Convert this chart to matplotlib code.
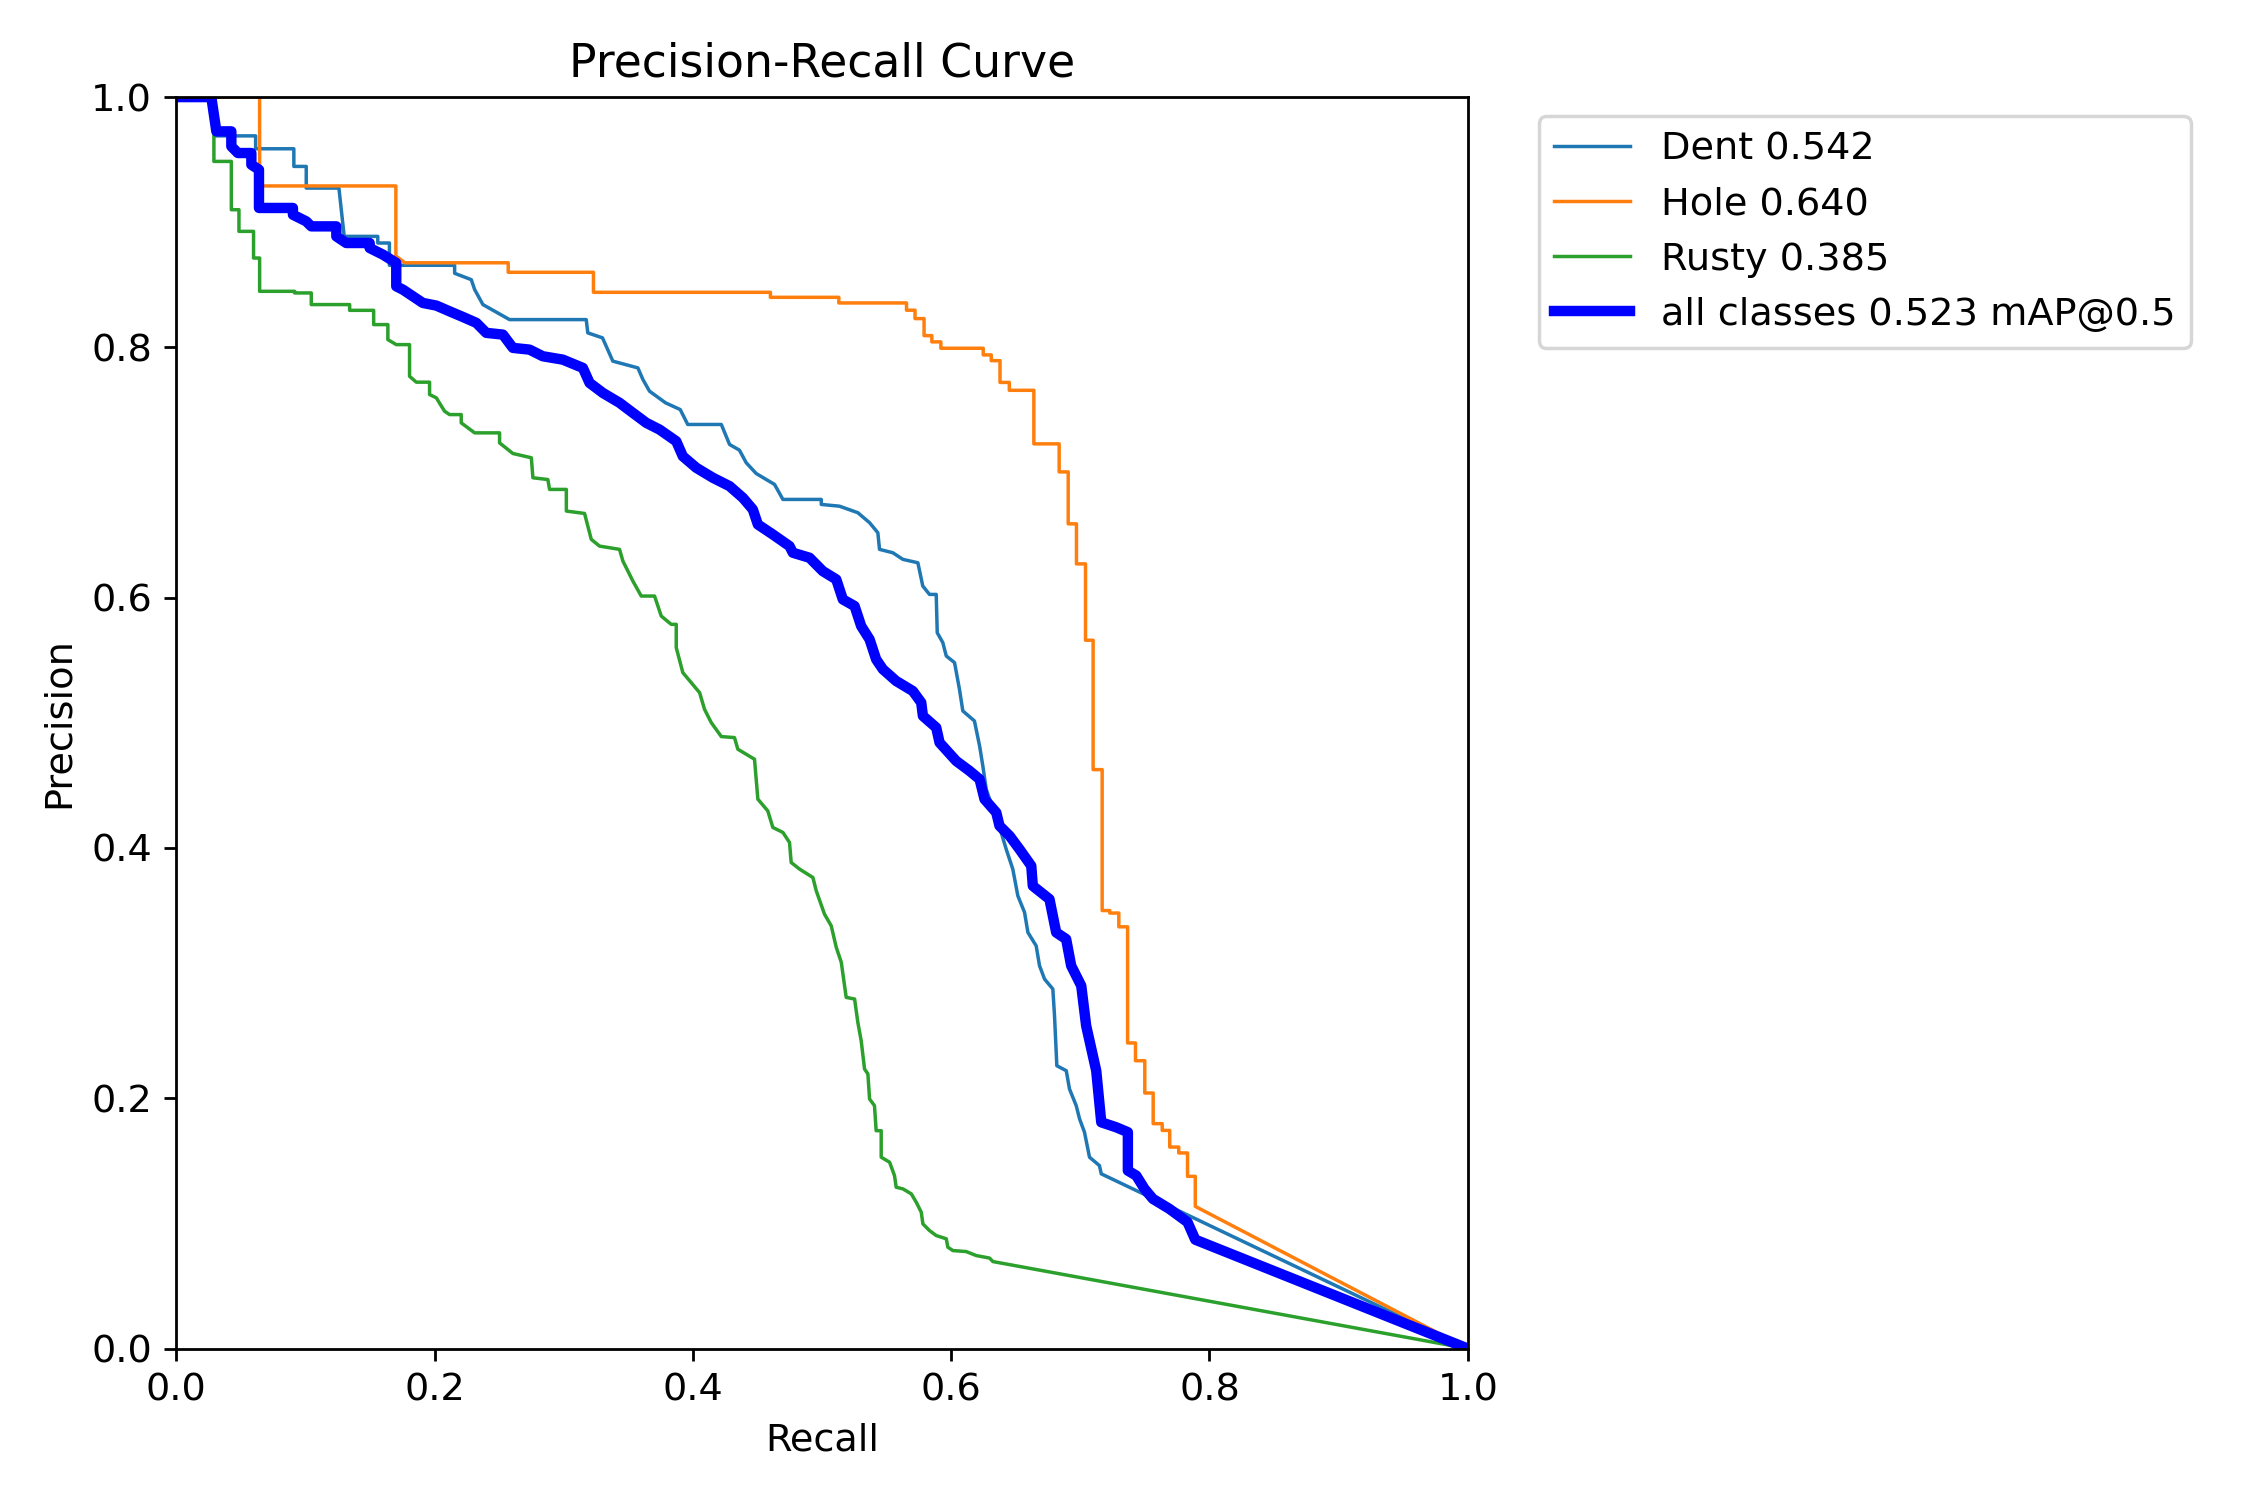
import matplotlib
matplotlib.use("Agg")
import matplotlib.pyplot as plt

plt.rcParams["font.size"] = 11

# ---- data ----
dent_recall = [0.000, 0.030, 0.030, 0.0614, 0.0614, 0.091, 0.091, 0.1006, 0.1006, 0.1259, 0.130, 0.156, 0.156,
               0.165, 0.165, 0.2155, 0.2155, 0.2284, 0.231, 0.2374, 0.258, 0.3174, 0.3186, 0.330, 0.338, 0.3574,
               0.3613, 0.3664, 0.3788, 0.3902, 0.396, 0.422, 0.4284, 0.436, 0.4413, 0.449, 0.4632, 0.4697, 0.4994,
               0.4994, 0.5135, 0.5277, 0.5368, 0.5432, 0.5445, 0.5548, 0.5626, 0.5742, 0.578, 0.5832, 0.5884,
               0.5892, 0.5935, 0.5962, 0.6026, 0.6064, 0.609, 0.618, 0.622, 0.6245, 0.6271, 0.6387, 0.6426,
               0.6477, 0.6516, 0.6568, 0.6594, 0.6658, 0.6684, 0.6723, 0.6787, 0.680, 0.6818, 0.6891, 0.6916,
               0.6968, 0.6994, 0.7032, 0.7071, 0.7148, 0.7162, 1.0]
dent_precision = [1.000, 1.000, 0.969, 0.969, 0.9587, 0.9587, 0.9446, 0.9446, 0.9273, 0.9273, 0.8887, 0.8887, 0.8834,
                  0.8834, 0.8656, 0.8656, 0.8592, 0.8541, 0.8462, 0.8342, 0.8222, 0.8222, 0.8116, 0.8076, 0.789, 0.7836,
                  0.7743, 0.765, 0.7557, 0.7503, 0.7384, 0.7384, 0.7224, 0.7179, 0.7078, 0.6992, 0.6905, 0.6785, 0.6785,
                  0.6745, 0.6731, 0.6679, 0.6599, 0.6519, 0.6386, 0.6359, 0.6306, 0.6279, 0.6093, 0.6026, 0.6026,
                  0.572, 0.5641, 0.5534, 0.5481, 0.5268, 0.5095, 0.5015, 0.4815, 0.4655, 0.447, 0.4124, 0.399,
                  0.3831, 0.3618, 0.3485, 0.3325, 0.3218, 0.3059, 0.2952, 0.2873, 0.266, 0.226, 0.222, 0.2074,
                  0.1941, 0.1835, 0.1729, 0.1529, 0.1462, 0.1396, 0.0]

hole_recall = [0.0, 0.0645, 0.0645, 0.170, 0.170, 0.177, 0.257, 0.257, 0.323, 0.323, 0.460, 0.460, 0.513, 0.513,
               0.5654, 0.5654, 0.572, 0.572, 0.579, 0.579, 0.585, 0.585, 0.592, 0.592, 0.6248, 0.6248, 0.631, 0.631,
               0.6378, 0.6378, 0.645, 0.645, 0.664, 0.664, 0.6836, 0.6836, 0.6906, 0.6906, 0.697, 0.697, 0.704,
               0.704, 0.7099, 0.7099, 0.7169, 0.7169, 0.7228, 0.7228, 0.7298, 0.7298, 0.7366, 0.7366, 0.7427,
               0.7427, 0.7499, 0.7499, 0.7564, 0.7564, 0.7634, 0.7634, 0.7692, 0.7692, 0.7762, 0.7762, 0.783,
               0.783, 0.789, 0.789, 1.0]
hole_precision = [1.0, 1.0, 0.929, 0.929, 0.873, 0.8676, 0.8676, 0.860, 0.860, 0.844, 0.844, 0.840, 0.840, 0.8355,
                  0.8355, 0.8297, 0.8297, 0.823, 0.823, 0.8094, 0.8094, 0.8044, 0.8044, 0.7993, 0.7993, 0.794, 0.794,
                  0.7894, 0.7894, 0.772, 0.772, 0.7657, 0.7657, 0.7229, 0.7229, 0.7005, 0.7005, 0.659, 0.659, 0.627,
                  0.627, 0.566, 0.566, 0.4626, 0.4626, 0.350, 0.350, 0.348, 0.348, 0.337, 0.337, 0.2442, 0.2442,
                  0.230, 0.230, 0.2042, 0.2042, 0.1797, 0.1797, 0.1743, 0.1743, 0.161, 0.161, 0.1563, 0.1563,
                  0.1376, 0.1376, 0.1136, 0.0]

rusty_recall = [0.0, 0.0291, 0.0291, 0.0426, 0.0426, 0.0485, 0.0485, 0.0598, 0.0598, 0.0645, 0.0645, 0.0916, 0.0916,
                0.1045, 0.1045, 0.1342, 0.1342, 0.1528, 0.1528, 0.1638, 0.1638, 0.1703, 0.1806, 0.1806, 0.1858,
                0.1961, 0.1961, 0.2013, 0.2077, 0.2116, 0.2206, 0.2206, 0.231, 0.2503, 0.2503, 0.2606, 0.2749,
                0.2761, 0.2877, 0.289, 0.302, 0.302, 0.3161, 0.3213, 0.3277, 0.3432, 0.3458, 0.3497, 0.3535, 0.360,
                0.3703, 0.3755, 0.3832, 0.3871, 0.3871, 0.3922, 0.3987, 0.4052, 0.409, 0.4142, 0.422, 0.4322,
                0.4348, 0.4477, 0.4503, 0.458, 0.4619, 0.4697, 0.4748, 0.4761, 0.4826, 0.4929, 0.4955, 0.5019,
                0.5071, 0.511, 0.5149, 0.5187, 0.5252, 0.5277, 0.5303, 0.5329, 0.5355, 0.5368, 0.5406, 0.5419,
                0.5458, 0.5458, 0.5523, 0.5561, 0.5574, 0.5626, 0.5691, 0.5729, 0.5768, 0.5781, 0.5832, 0.5884,
                0.5962, 0.5974, 0.6013, 0.6116, 0.6194, 0.6297, 0.6323, 1.0]
rusty_precision = [1.0, 1.0, 0.9486, 0.9486, 0.91, 0.91, 0.8927, 0.8927, 0.8714, 0.8714, 0.8448, 0.8448, 0.8435,
                   0.8435, 0.8342, 0.8342, 0.8296, 0.8296, 0.8182, 0.8182, 0.8062, 0.8022, 0.8022, 0.7769, 0.7722,
                   0.7722, 0.7623, 0.7597, 0.749, 0.7463, 0.7463, 0.7397, 0.7317, 0.7317, 0.7237, 0.7152, 0.7118,
                   0.6958, 0.6944, 0.6865, 0.6865, 0.6692, 0.6673, 0.6466, 0.6412, 0.6386, 0.6292, 0.6212, 0.6133,
                   0.6013, 0.6013, 0.5853, 0.5787, 0.5787, 0.5601, 0.5401, 0.5321, 0.5241, 0.5108, 0.5002, 0.489,
                   0.4882, 0.4789, 0.4709, 0.439, 0.4296, 0.4164, 0.4124, 0.4044, 0.3884, 0.3831, 0.3764, 0.3658,
                   0.3471, 0.3378, 0.3206, 0.3086, 0.2806, 0.2793, 0.2607, 0.246, 0.2234, 0.2194, 0.1994, 0.1941,
                   0.1741, 0.1741, 0.1529, 0.1489, 0.1382, 0.1289, 0.1276, 0.1236, 0.117, 0.109, 0.0996, 0.0943,
                   0.0903, 0.0877, 0.081, 0.0783, 0.0775, 0.0743, 0.0723, 0.0695, 0.0]

all_recall = [0.0, 0.0271, 0.031, 0.0426, 0.0426, 0.0477, 0.0581, 0.0581, 0.064, 0.064, 0.0903, 0.0903, 0.1006,
              0.1045, 0.1239, 0.1239, 0.1316, 0.1497, 0.1497, 0.16, 0.1703, 0.1703, 0.1755, 0.1832, 0.1909, 0.2013,
              0.2116, 0.2219, 0.2323, 0.24, 0.2529, 0.2606, 0.2735, 0.2838, 0.2993, 0.3148, 0.32, 0.3303, 0.3432,
              0.3535, 0.3639, 0.3742, 0.3871, 0.3922, 0.4026, 0.4155, 0.4284, 0.4387, 0.4464, 0.4503, 0.4619,
              0.4748, 0.4774, 0.4903, 0.5006, 0.511, 0.5161, 0.5252, 0.5303, 0.5368, 0.5419, 0.5471, 0.5574,
              0.5703, 0.5768, 0.5781, 0.5884, 0.591, 0.6039, 0.6142, 0.622, 0.6258, 0.6349, 0.6374, 0.6452,
              0.6529, 0.662, 0.6632, 0.6761, 0.6813, 0.689, 0.6929, 0.7007, 0.7045, 0.7123, 0.7162, 0.7278,
              0.7368, 0.7368, 0.7433, 0.7497, 0.7562, 0.769, 0.783, 0.789, 1.0]
all_precision = [1.0, 1.0, 0.9726, 0.9726, 0.9606, 0.9553, 0.9553, 0.946, 0.942, 0.9114, 0.9114, 0.906, 0.9007,
                 0.8967, 0.8967, 0.8887, 0.8834, 0.8834, 0.8794, 0.8741, 0.8675, 0.8488, 0.8461, 0.8408, 0.8355,
                 0.8334, 0.8288, 0.8243, 0.8196, 0.8116, 0.8102, 0.7996, 0.7982, 0.7929, 0.7902, 0.7836, 0.7716,
                 0.7636, 0.7557, 0.7477, 0.7397, 0.7343, 0.725, 0.713, 0.7038, 0.6958, 0.6891, 0.6798, 0.6705,
                 0.6585, 0.6505, 0.6412, 0.6359, 0.6319, 0.6212, 0.6146, 0.5986, 0.5933, 0.5773, 0.5667, 0.5507,
                 0.5428, 0.5334, 0.5254, 0.5162, 0.5055, 0.4962, 0.4842, 0.4695, 0.4616, 0.4549, 0.439, 0.4283,
                 0.4177, 0.4097, 0.399, 0.3857, 0.3697, 0.3591, 0.3325, 0.3272, 0.3059, 0.2899, 0.258, 0.222,
                 0.1808, 0.1768, 0.1729, 0.1422, 0.1382, 0.1276, 0.1196, 0.1116, 0.101, 0.087, 0.0]

class_names = ["Dent", "Hole", "Rusty"]
class_ap = [0.542, 0.640, 0.385]
map50 = 0.523

fig, ax = plt.subplots(1, 1, figsize=(9, 6), tight_layout=True)
series = [(dent_recall, dent_precision), (hole_recall, hole_precision), (rusty_recall, rusty_precision)]
for (r, p), name, ap in zip(series, class_names, class_ap):
    ax.plot(r, p, linewidth=1, label=f"{name} {ap:.3f}")
ax.plot(all_recall, all_precision, linewidth=3, color="blue", label=f"all classes {map50:.3f} mAP@0.5")
ax.set_xlabel("Recall")
ax.set_ylabel("Precision")
ax.set_xlim(0, 1)
ax.set_ylim(0, 1)
ax.legend(bbox_to_anchor=(1.04, 1), loc="upper left")
ax.set_title("Precision-Recall Curve")
fig.savefig("out.png", dpi=250)
